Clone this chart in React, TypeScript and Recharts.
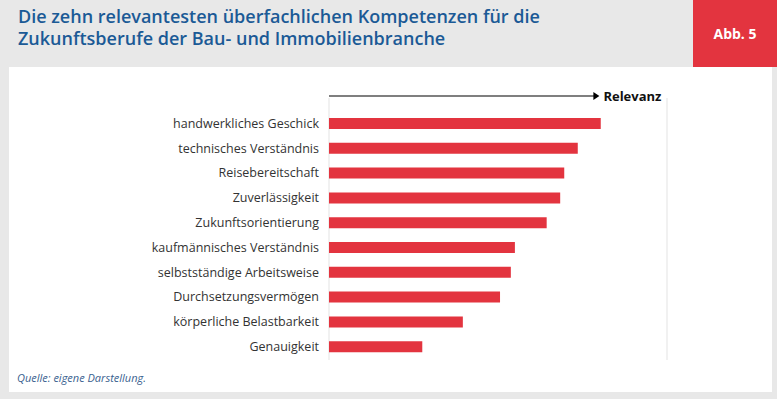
import { Bar, BarChart, CartesianGrid, XAxis, YAxis } from 'recharts'

const competences = [
  'handwerkliches Geschick',
  'technisches Verständnis',
  'Reisebereitschaft',
  'Zuverlässigkeit',
  'Zukunftsorientierung',
  'kaufmännisches Verständnis',
  'selbstständige Arbeitsweise',
  'Durchsetzungsvermögen',
  'körperliche Belastbarkeit',
  'Genauigkeit',
]
const relevance = [4.02, 3.68, 3.48, 3.42, 3.22, 2.75, 2.69, 2.53, 1.98, 1.38]
const gridTicks = [0, 1, 2, 3, 4, 5]

const data = competences.map((name, i) => ({ name, value: relevance[i] }))

const FONT = '"Open Sans", "Noto Sans", sans-serif'

function ArrowLabel(props: any) {
  const vb = props.viewBox || {}
  const y = vb.y + vb.height - 2
  const end = vb.x + vb.width * 0.8
  return (
    <g>
      <line x1={vb.x} y1={y} x2={end - 5} y2={y} stroke="#000" strokeWidth={1.2} />
      <path d={`M${end - 6},${y - 4} L${end},${y} L${end - 6},${y + 4} Z`} fill="#000" />
      <text x={end + 4} y={y} dy="0.35em" fontFamily={FONT} fontSize={13} fontWeight={700} fill="#111">
        Relevanz
      </text>
    </g>
  )
}

export default function App() {
  return (
    <div style={{ position: 'absolute', left: 0, top: 0, width: 777, height: 399, background: '#e8e8e8', overflow: 'hidden', fontFamily: FONT }}>
      <div style={{ position: 'absolute', left: 9, top: 67, width: 763, height: 325, background: '#fff' }} />
      <div style={{ position: 'absolute', left: 693, top: 0, width: 84, height: 67, background: '#e3343f', color: '#fff', fontWeight: 700, fontSize: 14, display: 'flex', alignItems: 'center', justifyContent: 'center' }}>
        Abb. 5
      </div>
      <div style={{ position: 'absolute', left: 18, top: 5, color: '#1b5a96', fontSize: 18, fontWeight: 600, lineHeight: '22px' }}>
        Die zehn relevantesten überfachlichen Kompetenzen für die
        <br />
        Zukunftsberufe der Bau- und Immobilienbranche
      </div>
      <div style={{ position: 'absolute', left: 17, top: 370, color: '#3a5f8f', fontSize: 11, fontStyle: 'italic' }}>
        Quelle: eigene Darstellung.
      </div>
      <div style={{ position: 'absolute', left: 0, top: 0 }}>
        <BarChart
          width={777}
          height={399}
          data={data}
          layout="vertical"
          margin={{ top: 86, right: 110, bottom: 39, left: 0 }}
        >
          <CartesianGrid horizontal={false} stroke="#e3e3e3" />
          <XAxis
            type="number"
            orientation="top"
            domain={[0, 5]}
            ticks={gridTicks}
            height={12}
            axisLine={false}
            tickLine={false}
            tick={false}
            label={<ArrowLabel />}
          />
          <YAxis
            type="category"
            dataKey="name"
            width={329}
            axisLine={false}
            tickLine={false}
            tickSize={0}
            tickMargin={10}
            padding={{ top: 13, bottom: 1 }}
            tick={{ fontFamily: FONT, fontSize: 12.5, fill: '#333' }}
          />
          <Bar dataKey="value" fill="#e3343f" barSize={11} isAnimationActive={false} />
        </BarChart>
      </div>
    </div>
  )
}
